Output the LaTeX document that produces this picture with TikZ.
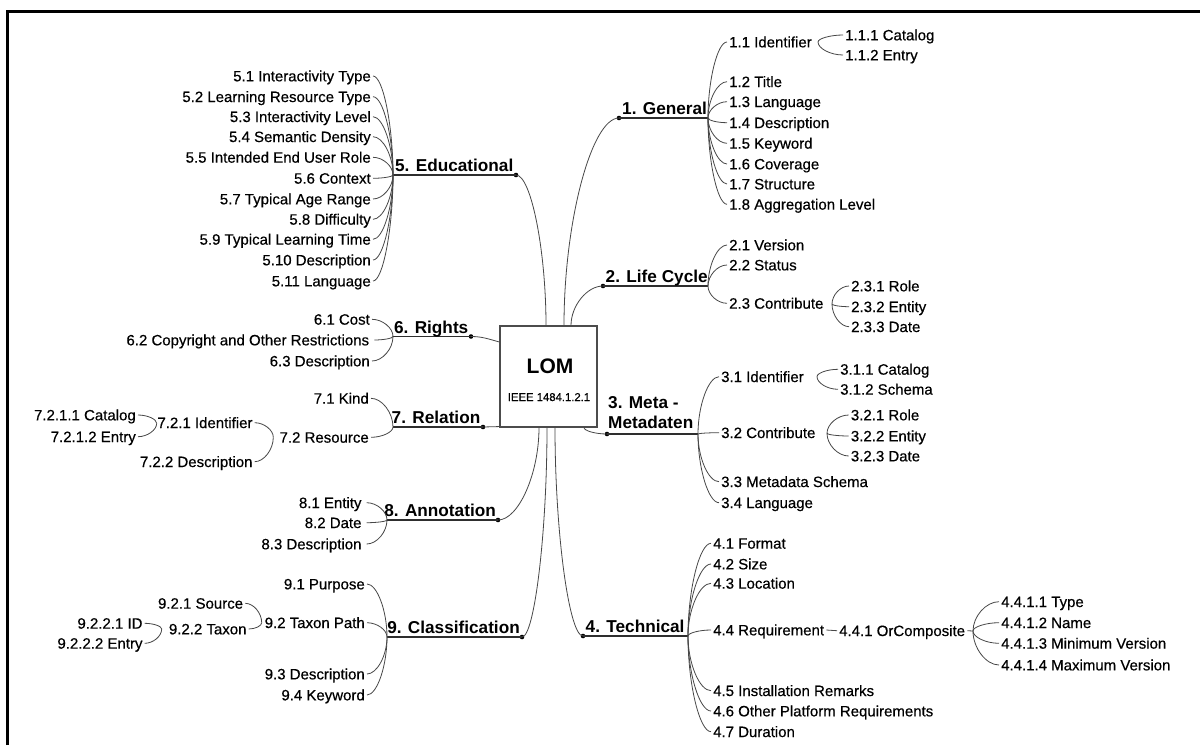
\documentclass[tikz,border=0pt]{standalone}
\usepackage{fontspec}
\setmainfont{Liberation Sans}
\newfontfamily\leaffont{Liberation Sans}[FakeBold=0.45]
\usetikzlibrary{calc}
\begin{document}
\begin{tikzpicture}[x=1pt,y=-1pt,
  leaf/.style={font=\leaffont\fontsize{15}{18}\selectfont, inner xsep=2pt, inner ysep=0pt,
               text height=10.7pt, text depth=0pt},
  leafL/.style={leaf, anchor=east},
  leafR/.style={leaf, anchor=west},
  wide/.style={inner xsep=5pt},
  catL/.style={font=\bfseries\fontsize{17.2}{20}\selectfont, inner sep=0pt, anchor=base east},
  catR/.style={font=\bfseries\fontsize{17.2}{20}\selectfont, inner sep=0pt, anchor=base west},
  conn/.style={draw=black!72, line width=0.8pt},
  ubar/.style={draw=black!82, line width=1.4pt},
  catdot/.style={circle, fill=black, inner sep=0pt, minimum size=4.6pt},
  elbow/.style={to path={.. controls ($(\tikztostart)!0.5!(\tikztotarget|-\tikztostart)$)
                 and ($(\tikztotarget)!0.5!(\tikztotarget|-\tikztostart)$) .. (\tikztotarget)}}
]
\useasboundingbox (0,0) rectangle (1200,745);
\fill[white] (0,0) rectangle (1200,745);

% frame
\draw[line width=3.5pt] (7.5,745) -- (7.5,11.5) -- (1200,11.5);

% central box
\node[draw=black!70, line width=1.4pt, minimum width=96.7pt, minimum height=100.7pt, inner sep=0pt]
  (lom) at (548.5,376.5) {};
\node[font=\bfseries\fontsize{21}{24}\selectfont, inner sep=0pt, anchor=base] (lomt) at (550,373.5) {LOM};
\node[font=\leaffont\fontsize{11.3}{13}\selectfont, inner sep=0pt, anchor=base] (loms) at (549,401) {IEEE 1484.1.2.1};

% ---------- 5. Educational ----------
\coordinate (j5) at (393,175);
\node[catdot] (d5) at (516,175) {};
\draw[ubar] (j5) -- (d5.center);
\node[catL] (c5) at ([xshift=-2.5pt,yshift=3.5pt]d5.center) {5. Educational};
\node[leafL] (n51) at (373,76) {5.1 Interactivity Type};
\node[leafL] (n52) at (373,96.7) {5.2 Learning Resource Type};
\node[leafL] (n53) at (373,116.7) {5.3 Interactivity Level};
\node[leafL] (n54) at (373,136.7) {5.4 Semantic Density};
\node[leafL] (n55) at (373,157.3) {5.5 Intended End User Role};
\node[leafL] (n56) at (373,178.3) {5.6 Context};
\node[leafL] (n57) at (373,199) {5.7 Typical Age Range};
\node[leafL] (n58) at (373,219.3) {5.8 Difficulty};
\node[leafL] (n59) at (373,239.3) {5.9 Typical Learning Time};
\node[leafL] (n510) at (373,260) {5.10 Description};
\node[leafL] (n511) at (373,281) {5.11 Language};
\foreach \n in {n51,n52,n53,n54,n55,n56,n57,n58,n59,n510,n511}
  \draw[conn] (\n.east) to[elbow] (j5);
\draw[conn] (d5.center) to[elbow] ([xshift=-2.5pt]lom.north);

% ---------- 6. Rights ----------
\coordinate (j6) at (393,336.5);
\node[catdot] (d6) at (471,336.5) {};
\draw[ubar] (j6) -- (d6.center);
\node[catL] (c6) at ([xshift=-2.5pt,yshift=3.5pt]d6.center) {6. Rights};
\node[leafL] (n61) at (372,319.3) {6.1 Cost};
\node[leafL,wide] (n62) at (374.3,340) {6.2 Copyright and Other Restrictions};
\node[leafL] (n63) at (372,361) {6.3 Description};
\foreach \n in {n61,n62,n63}
  \draw[conn] (\n.east) to[elbow] (j6);
\draw[conn] (d6.center) to[out=0,in=165] ([yshift=34.5pt]lom.west);

% ---------- 7. Relation ----------
\coordinate (j7) at (393,427);
\node[catdot] (d7) at (483,427) {};
\draw[ubar] (j7) -- (d7.center);
\node[catL] (c7) at ([xshift=-2.5pt,yshift=3.5pt]d7.center) {7. Relation};
\node[leafL] (n71) at (371,398.3) {7.1 Kind};
\node[leafL] (n72) at (371,437.3) {7.2 Resource};
\foreach \n in {n71,n72}
  \draw[conn] (\n.east) to[elbow] (j7);
\draw[conn] (d7.center) -- ([yshift=1pt]lom.south west);
% 7.2 Resource
\coordinate (j72) at (273.3,437.3);
\node[leafL] (n721) at (254.7,422.7) {7.2.1 Identifier};
\node[leafL] (n722) at (254.7,461.7) {7.2.2 Description};
\foreach \n in {n721,n722}
  \draw[conn] (\n.east) to[elbow] (j72);
% 7.2.1 Identifier
\coordinate (j721) at (156.7,423.3);
\node[leafL] (n7211) at (138,415) {7.2.1.1 Catalog};
\node[leafL] (n7212) at (138,436.7) {7.2.1.2 Entry};
\foreach \n in {n7211,n7212}
  \draw[conn] (\n.east) to[elbow] (j721);

% ---------- 8. Annotation ----------
\coordinate (j8) at (387,520);
\node[catdot] (d8) at (498,520) {};
\draw[ubar] (j8) -- (d8.center);
\node[catL] (c8) at ([xshift=-2pt,yshift=3.5pt]d8.center) {8. Annotation};
\node[leafL,wide] (n81) at (366.7,502.7) {8.1 Entity};
\node[leafL,wide] (n82) at (366.7,522.7) {8.2 Date};
\node[leafL,wide] (n83) at (366.7,544) {8.3 Description};
\foreach \n in {n81,n82,n83}
  \draw[conn] (\n.east) to[elbow] (j8);
\draw[conn] (d8.center) to[elbow] ([xshift=-9.5pt]lom.south);

% ---------- 9. Classification ----------
\coordinate (j9) at (387,637);
\node[catdot] (d9) at (522,637) {};
\draw[ubar] (j9) -- (d9.center);
\node[catL] (c9) at ([xshift=-2pt,yshift=3.5pt]d9.center) {9. Classification};
\node[leafL] (n91) at (367,584) {9.1 Purpose};
\node[leafL] (n92) at (367,622.7) {9.2 Taxon Path};
\node[leafL] (n93) at (367,674) {9.3 Description};
\node[leafL] (n94) at (367,695) {9.4 Keyword};
\foreach \n in {n91,n92,n93,n94}
  \draw[conn] (\n.east) to[elbow] (j9);
\draw[conn] (d9.center) to[elbow] ([xshift=-1.5pt]lom.south);
% 9.2 Taxon Path
\coordinate (j92) at (261.7,622.7);
\node[leafL] (n921) at (245.3,603.3) {9.2.1 Source};
\node[leafL] (n922) at (248.7,629) {9.2.2 Taxon};
\foreach \n in {n921,n922}
  \draw[conn] (\n.east) to[elbow] (j92);
% 9.2.2 Taxon
\coordinate (j922) at (161.7,629);
\node[leafL] (n9221) at (144.7,623.3) {9.2.2.1 ID};
\node[leafL] (n9222) at (144.7,643.3) {9.2.2.2 Entry};
\foreach \n in {n9221,n9222}
  \draw[conn] (\n.east) to[elbow] (j922);

% ---------- 1. General ----------
\coordinate (j1) at (708,118);
\node[catdot] (d1) at (619,118) {};
\draw[ubar] (d1.center) -- (j1);
\node[catR] (c1) at ([xshift=3pt,yshift=3.3pt]d1.center) {1. General};
\node[leafR] (n11) at (727,42) {1.1 Identifier};
\node[leafR] (n12) at (727,81.7) {1.2 Title};
\node[leafR] (n13) at (727,101.7) {1.3 Language};
\node[leafR] (n14) at (727,122.7) {1.4 Description};
\node[leafR] (n15) at (727,143.3) {1.5 Keyword};
\node[leafR] (n16) at (727,164) {1.6 Coverage};
\node[leafR] (n17) at (727,184) {1.7 Structure};
\node[leafR] (n18) at (727,204.3) {1.8 Aggregation Level};
\foreach \n in {n11,n12,n13,n14,n15,n16,n17,n18}
  \draw[conn] (\n.west) to[elbow] (j1);
\draw[conn] (d1.center) to[elbow] ([xshift=15.5pt]lom.north);
% 1.1 Identifier
\coordinate (j11) at (818,42);
\node[leafR] (n111) at (843,35) {1.1.1 Catalog};
\node[leafR] (n112) at (843,55) {1.1.2 Entry};
\foreach \n in {n111,n112}
  \draw[conn] (\n.west) to[elbow] (j11);

% ---------- 2. Life Cycle ----------
\coordinate (j2) at (708,286);
\node[catdot] (d2) at (603,286) {};
\draw[ubar] (d2.center) -- (j2);
\node[catR] (c2) at ([xshift=2.5pt,yshift=3.5pt]d2.center) {2. Life Cycle};
\node[leafR] (n21) at (727,245) {2.1 Version};
\node[leafR] (n22) at (727,265) {2.2 Status};
\node[leafR] (n23) at (727,303.3) {2.3 Contribute};
\foreach \n in {n21,n22,n23}
  \draw[conn] (\n.west) to[elbow] (j2);
\draw[conn] (d2.center) to[elbow] ([xshift=22.5pt]lom.north);
% 2.3 Contribute
\coordinate (j23) at (832,304);
\node[leafR] (n231) at (849,286) {2.3.1 Role};
\node[leafR] (n232) at (849,306.7) {2.3.2 Entity};
\node[leafR] (n233) at (849,326.7) {2.3.3 Date};
\foreach \n in {n231,n232,n233}
  \draw[conn] (\n.west) to[elbow] (j23);

% ---------- 3. Meta-Metadaten ----------
\coordinate (j3) at (698,434);
\node[catdot] (d3) at (607,434) {};
\draw[ubar] (d3.center) -- (j3);
\node[font=\bfseries\fontsize{17.2}{20}\selectfont, inner sep=0pt, text depth=0pt,
      align=left, anchor=south west] (c3) at ([xshift=1pt,yshift=5pt]d3.center) {3. Meta -\\Metadaten};
\node[leafR] (n31) at (719,376.7) {3.1 Identifier};
\node[leafR] (n32) at (719,432.7) {3.2 Contribute};
\node[leafR] (n33) at (719,481.7) {3.3 Metadata Schema};
\node[leafR] (n34) at (719,502.7) {3.4 Language};
\foreach \n in {n31,n32,n33,n34}
  \draw[conn] (\n.west) to[elbow] (j3);
\draw[conn] (d3.center) to[elbow] ([xshift=35.5pt]lom.south);
% 3.1 Identifier
\coordinate (j31) at (817,376.7);
\node[leafR] (n311) at (838,369.3) {3.1.1 Catalog};
\node[leafR] (n312) at (838,389.3) {3.1.2 Schema};
\foreach \n in {n311,n312}
  \draw[conn] (\n.west) to[elbow] (j31);
% 3.2 Contribute
\coordinate (j32) at (827,433.3);
\node[leafR] (n321) at (848.7,415) {3.2.1 Role};
\node[leafR] (n322) at (848.7,436) {3.2.2 Entity};
\node[leafR] (n323) at (848.7,456) {3.2.3 Date};
\foreach \n in {n321,n322,n323}
  \draw[conn] (\n.west) to[elbow] (j32);

% ---------- 4. Technical ----------
\coordinate (j4) at (688,636);
\node[catdot] (d4) at (583,636) {};
\draw[ubar] (d4.center) -- (j4);
\node[catR] (c4) at ([xshift=2.5pt,yshift=4pt]d4.center) {4. Technical};
\node[leafR] (n41) at (711,543.3) {4.1 Format};
\node[leafR] (n42) at (711,564) {4.2 Size};
\node[leafR] (n43) at (711,583.3) {4.3 Location};
\node[leafR] (n44) at (711,630) {4.4 Requirement};
\node[leafR] (n45) at (711,690.7) {4.5 Installation Remarks};
\node[leafR] (n46) at (711,711) {4.6 Other Platform Requirements};
\node[leafR] (n47) at (711,731.7) {4.7 Duration};
\foreach \n in {n41,n42,n43,n44,n45,n46,n47}
  \draw[conn] (\n.west) to[elbow] (j4);
\draw[conn] (d4.center) to[elbow] ([xshift=6.5pt]lom.south);
% 4.4.1 OrComposite
\node[leafR] (n441) at (837,630.7) {4.4.1 OrComposite};
\draw[conn] (n44.east) -- (n441.west);
\coordinate (j441) at (973,631);
\draw[conn] (n441.east) -- (j441);
\node[leafR] (n4411) at (999,601.7) {4.4.1.1 Type};
\node[leafR] (n4412) at (999,622.7) {4.4.1.2 Name};
\node[leafR] (n4413) at (999,643.3) {4.4.1.3 Minimum Version};
\node[leafR] (n4414) at (999,665) {4.4.1.4 Maximum Version};
\foreach \n in {n4411,n4412,n4413,n4414}
  \draw[conn] (\n.west) to[elbow] (j441);
\end{tikzpicture}
\end{document}
